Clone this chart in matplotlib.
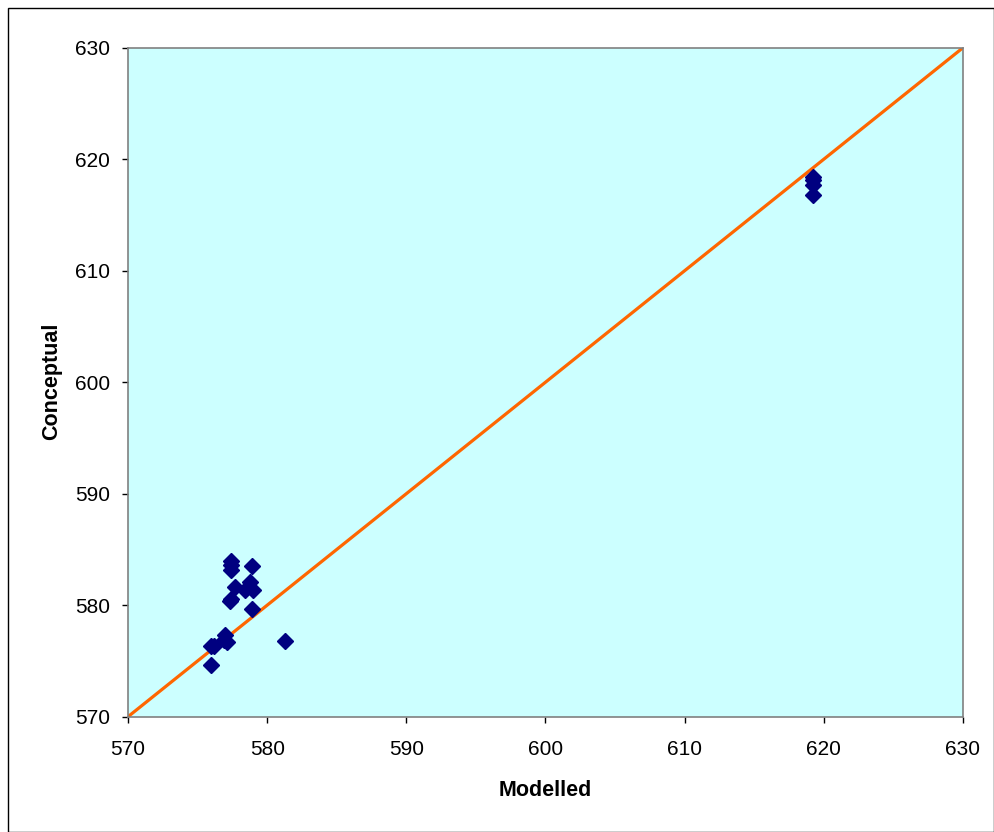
import numpy as np
import matplotlib.pyplot as plt
from matplotlib.patches import Rectangle

plt.rcParams['font.family'] = ['Liberation Sans', 'DejaVu Sans']

# modelled vs conceptual values
modelled = [577.4, 577.4, 577.4, 578.9, 577.7, 578.8, 579.0, 578.4,
            577.3, 577.4, 578.9, 577.0, 576.9, 577.1, 576.0, 576.2,
            576.0, 581.3, 619.2, 619.2, 619.2, 619.2]
conceptual = [584.0, 583.6, 583.2, 583.5, 581.6, 582.1, 581.4, 581.4,
              580.4, 580.6, 579.7, 577.3, 576.9, 576.7, 576.3, 576.3,
              574.6, 576.8, 618.4, 618.1, 617.7, 616.8]
line_x = [570, 630]
line_y = [570, 630]

W, H = 995, 832
fig = plt.figure(figsize=(W/100, H/100), dpi=100)
fig.patches.append(Rectangle((8/W, 0), 986/W, 824/H, transform=fig.transFigure,
                             fill=False, edgecolor='black', linewidth=1))

ax = fig.add_axes([128/W, 1 - 716.7/H, 835/W, 669/H])
ax.set_facecolor('#CCFFFF')
ax.plot(line_x, line_y, color='#FF6600', linewidth=2.3, zorder=2)
ax.plot(modelled, conceptual, linestyle='none', marker='D', markersize=7.8,
        color='#000080', zorder=3)

ax.set_xlim(570, 630)
ax.set_ylim(570, 630)
ax.set_xticks(np.arange(570, 631, 10))
ax.set_yticks(np.arange(570, 631, 10))
ax.tick_params(direction='out', length=4, width=1, labelsize=15, color='black')
ax.tick_params(axis='x', pad=13)
ax.tick_params(axis='y', pad=9)
for s in ax.spines.values():
    s.set_color('#808080')
    s.set_linewidth(1.2)

fig.text(545/W, 1 - 790/H, 'Modelled', fontsize=15.5, fontweight='bold',
         ha='center', va='center')
fig.text(52/W, 1 - 381/H, 'Conceptual', fontsize=15.5, fontweight='bold',
         ha='center', va='center', rotation=90)

plt.savefig('out.png', dpi=100)
